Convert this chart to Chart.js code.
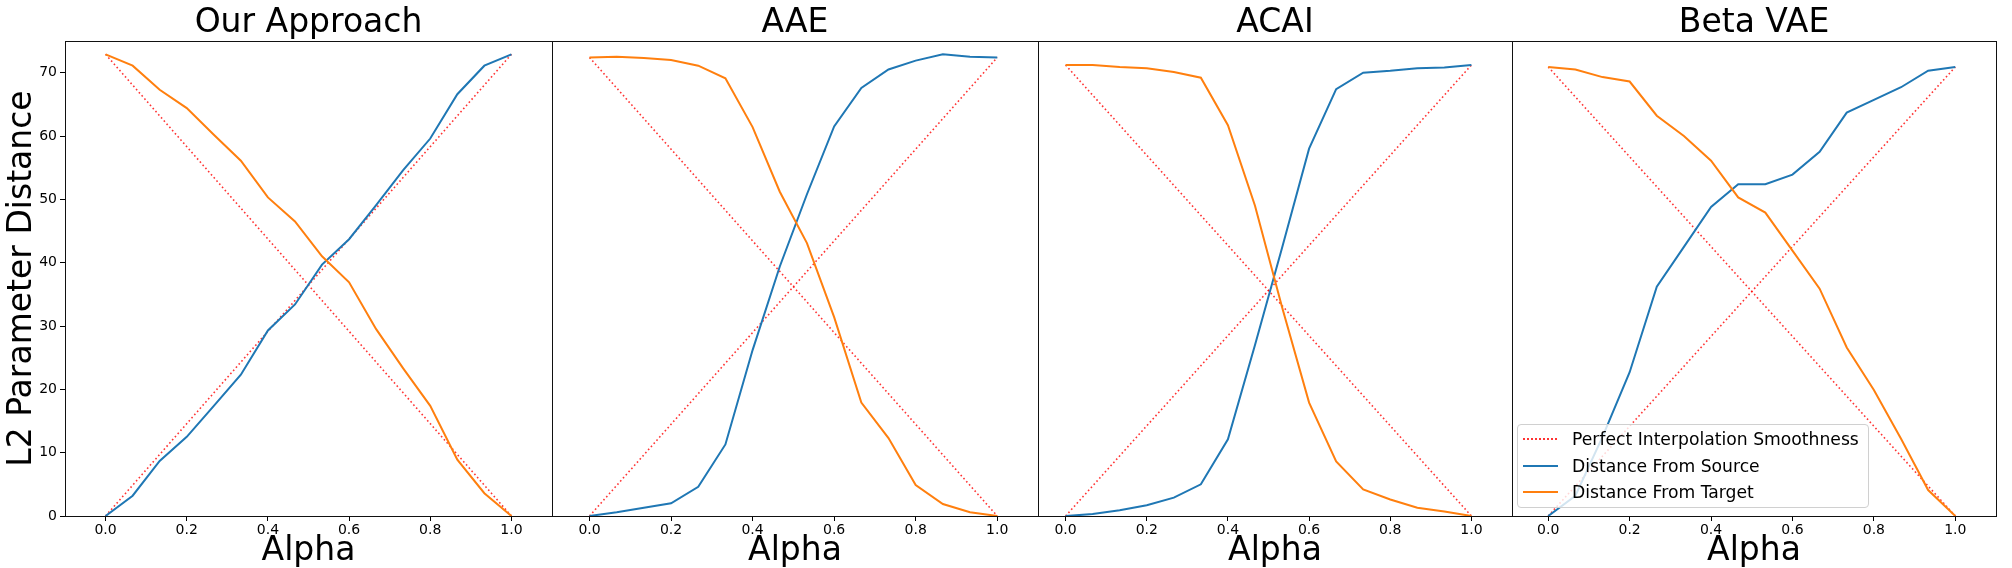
<!DOCTYPE html>
<html>
<head>
<meta charset="utf-8">
<script src="https://cdn.jsdelivr.net/npm/chart.js@4.4.1/dist/chart.umd.min.js"></script>
<style>
  body { margin: 0; background: #fff; }
  #wrap { position: relative; width: 2012px; height: 568px; font-family: "DejaVu Sans", sans-serif; }
  #wrap canvas { position: absolute; top: 0; }
  #legend {
    position: absolute; left: 1517px; top: 424px; width: 350px; height: 82px;
    border: 1px solid #d0d0d0; border-radius: 4px; background: rgba(255,255,255,0.8);
    font-size: 17.2px; color: #000;
  }
  #legend .row { position: absolute; left: 0; height: 20px; }
  #legend .swatch { position: absolute; left: 5px; top: 9px; width: 35px; height: 2px; }
  #legend .txt { position: absolute; left: 54px; top: 0; line-height: 20px; white-space: nowrap; }
</style>
</head>
<body>
<div id="wrap">
  <canvas id="p0"></canvas>
  <canvas id="p1"></canvas>
  <canvas id="p2"></canvas>
  <canvas id="p3"></canvas>
  <div id="legend">
    <div class="row" style="top:4px"><div class="swatch" style="background:repeating-linear-gradient(to right, rgba(255,0,0,0.8) 0 1.6px, transparent 1.6px 4px)"></div><div class="txt">Perfect Interpolation Smoothness</div></div>
    <div class="row" style="top:31px"><div class="swatch" style="background:#1f77b4"></div><div class="txt">Distance From Source</div></div>
    <div class="row" style="top:57px"><div class="swatch" style="background:#ff7f0e"></div><div class="txt">Distance From Target</div></div>
  </div>
</div>
<script>
// alpha steps (16 points)
const alpha = [0, 0.0667, 0.1333, 0.2, 0.2667, 0.3333, 0.4, 0.4667, 0.5333, 0.6, 0.6667, 0.7333, 0.8, 0.8667, 0.9333, 1];

const titles = ['Our Approach', 'AAE', 'ACAI', 'Beta VAE'];

const ourSource  = [0, 3.2, 8.7, 12.5, 17.4, 22.3, 29.3, 33.4, 39.7, 43.7, 49.1, 54.6, 59.6, 66.6, 71.1, 72.9];
const ourTarget  = [72.9, 71.1, 67.3, 64.4, 60.2, 56.1, 50.3, 46.5, 41.0, 36.9, 29.5, 23.3, 17.4, 8.9, 3.6, 0];
const aaeSource  = [0, 0.6, 1.3, 2.0, 4.6, 11.3, 26.2, 39.4, 50.8, 61.5, 67.6, 70.5, 71.9, 72.9, 72.5, 72.4];
const aaeTarget  = [72.4, 72.5, 72.3, 72.0, 71.1, 69.1, 61.4, 51.2, 43.1, 31.4, 17.9, 12.3, 4.9, 1.9, 0.6, 0];
const acaiSource = [0, 0.3, 0.9, 1.7, 2.9, 5.0, 12.1, 27.0, 42.3, 58.0, 67.4, 70.0, 70.3, 70.7, 70.8, 71.2];
const acaiTarget = [71.2, 71.2, 70.9, 70.7, 70.1, 69.2, 61.7, 49.0, 33.0, 17.9, 8.6, 4.2, 2.6, 1.3, 0.7, 0];
const betaSource = [0, 3.2, 12.5, 22.7, 36.2, 42.5, 48.8, 52.4, 52.4, 53.9, 57.5, 63.7, 65.7, 67.7, 70.3, 70.9];
const betaTarget = [70.9, 70.5, 69.3, 68.6, 63.2, 60.0, 56.1, 50.3, 47.9, 41.9, 35.9, 26.6, 19.9, 12.2, 4.1, 0];

// end value of the straight "perfect" line in each panel
const perfectTop = [72.9, 72.4, 71.2, 70.9];

const sources = [ourSource, aaeSource, acaiSource, betaSource];
const targets = [ourTarget, aaeTarget, acaiTarget, betaTarget];

const xTicks = [0, 0.2, 0.4, 0.6, 0.8, 1.0];
const yTicks = [0, 10, 20, 30, 40, 50, 60, 70];

// plot box of each panel in page pixels, and x range
const panels = [
  { left: 65,   right: 552,  xMin: -0.1 },
  { left: 552,  right: 1038, xMin: -0.092 },
  { left: 1038, right: 1512, xMin: -0.068 },
  { left: 1512, right: 1996, xMin: -0.089 },
];

const FONT = "'DejaVu Sans', sans-serif";

// the black box round each plot
const frame = {
  id: 'frame',
  afterDatasetsDraw(chart) {
    const { ctx, chartArea: a } = chart;
    ctx.save();
    ctx.strokeStyle = '#111';
    ctx.lineWidth = 1;
    ctx.strokeRect(Math.round(a.left) + 0.5, Math.round(a.top) + 0.5,
      Math.round(a.right) - Math.round(a.left), Math.round(a.bottom) - Math.round(a.top));
    ctx.restore();
  }
};

const pts = (ys) => ys.map((y, i) => ({ x: alpha[i], y: y }));

panels.forEach((p, i) => {
  const first = i === 0;
  const padL = first ? 0 : 10;
  const yW = first ? 65 : 0;
  const canvasLeft = p.left - padL - yW;
  const width = p.right - canvasLeft + 10;

  const cv = document.getElementById('p' + i);
  cv.width = width;
  cv.height = 568;
  cv.style.left = canvasLeft + 'px';

  const top = perfectTop[i];
  new Chart(cv, {
    type: 'line',
    data: {
      datasets: [
        { label: 'Distance From Target', data: pts(targets[i]), borderColor: '#ff7f0e', borderWidth: 2, order: 1 },
        { label: 'Distance From Source', data: pts(sources[i]), borderColor: '#1f77b4', borderWidth: 2, order: 2 },
        { label: 'Perfect Interpolation Smoothness', data: [{ x: 0, y: top }, { x: 1, y: 0 }],
          borderColor: 'rgba(255,0,0,0.8)', borderWidth: 1.6, borderDash: [1.6, 2.6], order: 3 },
        { label: 'perfect2', data: [{ x: 0, y: 0 }, { x: 1, y: top }],
          borderColor: 'rgba(255,0,0,0.8)', borderWidth: 1.6, borderDash: [1.6, 2.6], order: 3 },
      ]
    },
    options: {
      responsive: false,
      animation: false,
      events: [],
      layout: { padding: { left: padL, right: 10, top: 0, bottom: 0 } },
      elements: { point: { radius: 0 }, line: { tension: 0, fill: false } },
      plugins: {
        legend: { display: false },
        tooltip: { enabled: false },
        title: {
          display: true, text: titles[i], fullSize: false, color: '#000',
          font: { family: FONT, size: 33, weight: 'normal', lineHeight: 1 },
          padding: { top: 7, bottom: 1 }
        }
      },
      scales: {
        x: {
          type: 'linear', min: p.xMin, max: 1.1,
          afterBuildTicks: (s) => { s.ticks = xTicks.map(v => ({ value: v })); },
          afterFit: (s) => { s.height = 52; },
          grid: { display: true, drawOnChartArea: false, drawTicks: true, tickLength: 5, color: '#000' },
          border: { display: false },
          ticks: { color: '#000', padding: 1, font: { family: FONT, size: 14 }, callback: (v) => v.toFixed(1), maxRotation: 0 },
          title: { display: true, text: 'Alpha', color: '#000', font: { family: FONT, size: 33, lineHeight: 1 }, padding: 0 }
        },
        y: {
          type: 'linear', min: 0, max: 75, display: first,
          afterBuildTicks: (s) => { s.ticks = yTicks.map(v => ({ value: v })); },
          afterFit: (s) => { s.width = yW; },
          grid: { display: true, drawOnChartArea: false, drawTicks: true, tickLength: 5, color: '#000' },
          border: { display: false },
          ticks: { color: '#000', padding: 3, font: { family: FONT, size: 14 } },
          title: { display: true, text: 'L2 Parameter Distance', color: '#000', font: { family: FONT, size: 33, lineHeight: 1 }, padding: { top: 6, bottom: 0 } }
        }
      }
    },
    plugins: [frame]
  });
});
</script>
</body>
</html>
